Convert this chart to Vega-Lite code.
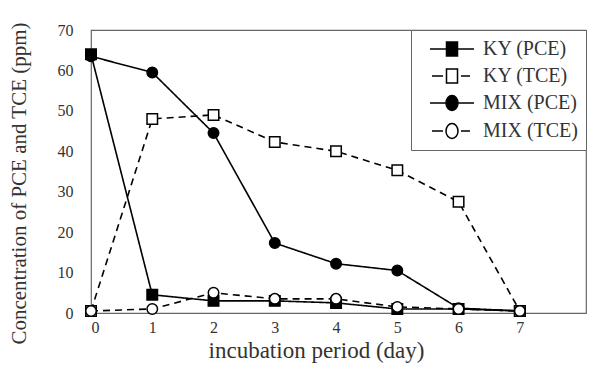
{
  "$schema": "https://vega.github.io/schema/vega-lite/v6.json",
  "width": 495,
  "height": 283,
  "autosize": {"type": "none"},
  "padding": {"left": 91, "top": 30, "right": 9, "bottom": 68},
  "background": "white",
  "config": {
    "view": {"stroke": "#666", "strokeWidth": 1.2},
    "font": "Liberation Serif",
    "axis": {"grid": false, "domain": false, "ticks": false, "labelFont": "Liberation Serif", "titleFont": "Liberation Serif", "labelColor": "#333", "titleColor": "#333", "titleFontWeight": "normal"}
  },
  "data": {
    "values": [
      {"day": 0, "value": 64, "series": "KY (PCE)", "strain": "KY", "compound": "PCE"},
      {"day": 1, "value": 4.5, "series": "KY (PCE)", "strain": "KY", "compound": "PCE"},
      {"day": 2, "value": 3, "series": "KY (PCE)", "strain": "KY", "compound": "PCE"},
      {"day": 3, "value": 3, "series": "KY (PCE)", "strain": "KY", "compound": "PCE"},
      {"day": 4, "value": 2.5, "series": "KY (PCE)", "strain": "KY", "compound": "PCE"},
      {"day": 5, "value": 1, "series": "KY (PCE)", "strain": "KY", "compound": "PCE"},
      {"day": 6, "value": 1, "series": "KY (PCE)", "strain": "KY", "compound": "PCE"},
      {"day": 7, "value": 0.5, "series": "KY (PCE)", "strain": "KY", "compound": "PCE"},
      {"day": 0, "value": 0.5, "series": "KY (TCE)", "strain": "KY", "compound": "TCE"},
      {"day": 1, "value": 48, "series": "KY (TCE)", "strain": "KY", "compound": "TCE"},
      {"day": 2, "value": 49, "series": "KY (TCE)", "strain": "KY", "compound": "TCE"},
      {"day": 3, "value": 42.3, "series": "KY (TCE)", "strain": "KY", "compound": "TCE"},
      {"day": 4, "value": 40, "series": "KY (TCE)", "strain": "KY", "compound": "TCE"},
      {"day": 5, "value": 35.3, "series": "KY (TCE)", "strain": "KY", "compound": "TCE"},
      {"day": 6, "value": 27.5, "series": "KY (TCE)", "strain": "KY", "compound": "TCE"},
      {"day": 7, "value": 0.5, "series": "KY (TCE)", "strain": "KY", "compound": "TCE"},
      {"day": 0, "value": 63.5, "series": "MIX (PCE)", "strain": "MIX", "compound": "PCE"},
      {"day": 1, "value": 59.5, "series": "MIX (PCE)", "strain": "MIX", "compound": "PCE"},
      {"day": 2, "value": 44.5, "series": "MIX (PCE)", "strain": "MIX", "compound": "PCE"},
      {"day": 3, "value": 17.3, "series": "MIX (PCE)", "strain": "MIX", "compound": "PCE"},
      {"day": 4, "value": 12.2, "series": "MIX (PCE)", "strain": "MIX", "compound": "PCE"},
      {"day": 5, "value": 10.5, "series": "MIX (PCE)", "strain": "MIX", "compound": "PCE"},
      {"day": 6, "value": 1.2, "series": "MIX (PCE)", "strain": "MIX", "compound": "PCE"},
      {"day": 7, "value": 0.5, "series": "MIX (PCE)", "strain": "MIX", "compound": "PCE"},
      {"day": 0, "value": 0.5, "series": "MIX (TCE)", "strain": "MIX", "compound": "TCE"},
      {"day": 1, "value": 1, "series": "MIX (TCE)", "strain": "MIX", "compound": "TCE"},
      {"day": 2, "value": 5, "series": "MIX (TCE)", "strain": "MIX", "compound": "TCE"},
      {"day": 3, "value": 3.5, "series": "MIX (TCE)", "strain": "MIX", "compound": "TCE"},
      {"day": 4, "value": 3.5, "series": "MIX (TCE)", "strain": "MIX", "compound": "TCE"},
      {"day": 5, "value": 1.5, "series": "MIX (TCE)", "strain": "MIX", "compound": "TCE"},
      {"day": 6, "value": 1, "series": "MIX (TCE)", "strain": "MIX", "compound": "TCE"},
      {"day": 7, "value": 0.5, "series": "MIX (TCE)", "strain": "MIX", "compound": "TCE"}
    ]
  },
  "encoding": {
    "x": {
      "field": "day", "type": "quantitative",
      "scale": {"domain": [0, 8.08], "nice": false},
      "axis": {"values": [0, 1, 2, 3, 4, 5, 6, 7], "title": "incubation period (day)", "labelFontSize": 16, "titleFontSize": 23, "labelPadding": 6, "titlePadding": 4, "titleX": 225}
    },
    "y": {
      "field": "value", "type": "quantitative",
      "scale": {"domain": [0, 70], "nice": false},
      "axis": {"values": [0, 10, 20, 30, 40, 50, 60, 70], "title": "Concentration of PCE and  TCE (ppm)", "labelFontSize": 16, "titleFontSize": 21, "labelPadding": 18, "titlePadding": 28, "titleY": 153}
    }
  },
  "resolve": {"scale": {"shape": "independent", "fill": "independent"}, "legend": {"shape": "independent", "fill": "independent"}},
  "layer": [
    {
      "mark": {"type": "line", "color": "black", "strokeWidth": 1.6},
      "encoding": {
        "detail": {"field": "series"},
        "strokeDash": {
          "field": "compound", "type": "nominal",
          "scale": {"domain": ["PCE", "TCE"], "range": [[1, 0], [7, 5]]},
          "legend": null
        }
      }
    },
    {
      "mark": {"type": "point", "filled": true, "stroke": "black", "strokeWidth": 1.5, "size": 110, "opacity": 1},
      "encoding": {
        "shape": {
          "field": "strain", "type": "nominal",
          "scale": {"domain": ["KY", "MIX"], "range": ["square", "circle"]},
          "legend": null
        },
        "fill": {
          "field": "compound", "type": "nominal",
          "scale": {"domain": ["PCE", "TCE"], "range": ["black", "white"]},
          "legend": null
        }
      }
    },
    {
      "mark": {"type": "point", "filled": true, "stroke": "black", "strokeWidth": 1.5, "size": 0, "opacity": 0},
      "encoding": {
        "shape": {
          "field": "series", "type": "nominal",
          "scale": {"domain": ["KY (PCE)", "KY (TCE)", "MIX (PCE)", "MIX (TCE)"], "range": [
            "M-2.2,0H2.2M-0.55,-0.7H0.55V0.7H-0.55Z",
            "M-2,0H-0.9M-0.55,-0.7H0.55V0.7H-0.55ZM0.9,0H1.8",
            "M-2.2,0H2.2M0.6,0A0.6,0.75 0 1,1 -0.6,0A0.6,0.75 0 1,1 0.6,0Z",
            "M-2,0H-0.9M0.6,0A0.6,0.75 0 1,1 -0.6,0A0.6,0.75 0 1,1 0.6,0ZM0.9,0H1.8"
          ]},
          "legend": {"title": null, "orient": "top-right", "offset": 0, "fillColor": "white", "strokeColor": "#666", "padding": 8, "labelFont": "Liberation Serif", "labelFontSize": 20, "labelColor": "#333", "symbolSize": 400, "symbolOffset": 22, "labelOffset": 20, "rowPadding": 6, "symbolOpacity": 1,
            "encode": {"symbols": {"update": {"stroke": {"value": "black"}, "strokeWidth": {"value": 1.5}, "opacity": {"value": 1}}}}}
        },
        "fill": {
          "field": "series", "type": "nominal",
          "scale": {"domain": ["KY (PCE)", "KY (TCE)", "MIX (PCE)", "MIX (TCE)"], "range": ["black", "white", "black", "white"]},
          "legend": {"title": null, "orient": "top-right", "offset": 0, "fillColor": "white", "strokeColor": "#666", "padding": 8, "labelFont": "Liberation Serif", "labelFontSize": 20, "labelColor": "#333", "symbolSize": 400, "symbolOffset": 22, "labelOffset": 20, "rowPadding": 6, "symbolOpacity": 1,
            "encode": {"symbols": {"update": {"stroke": {"value": "black"}, "strokeWidth": {"value": 1.5}, "opacity": {"value": 1}}}}}
        }
      }
    }
  ]
}
